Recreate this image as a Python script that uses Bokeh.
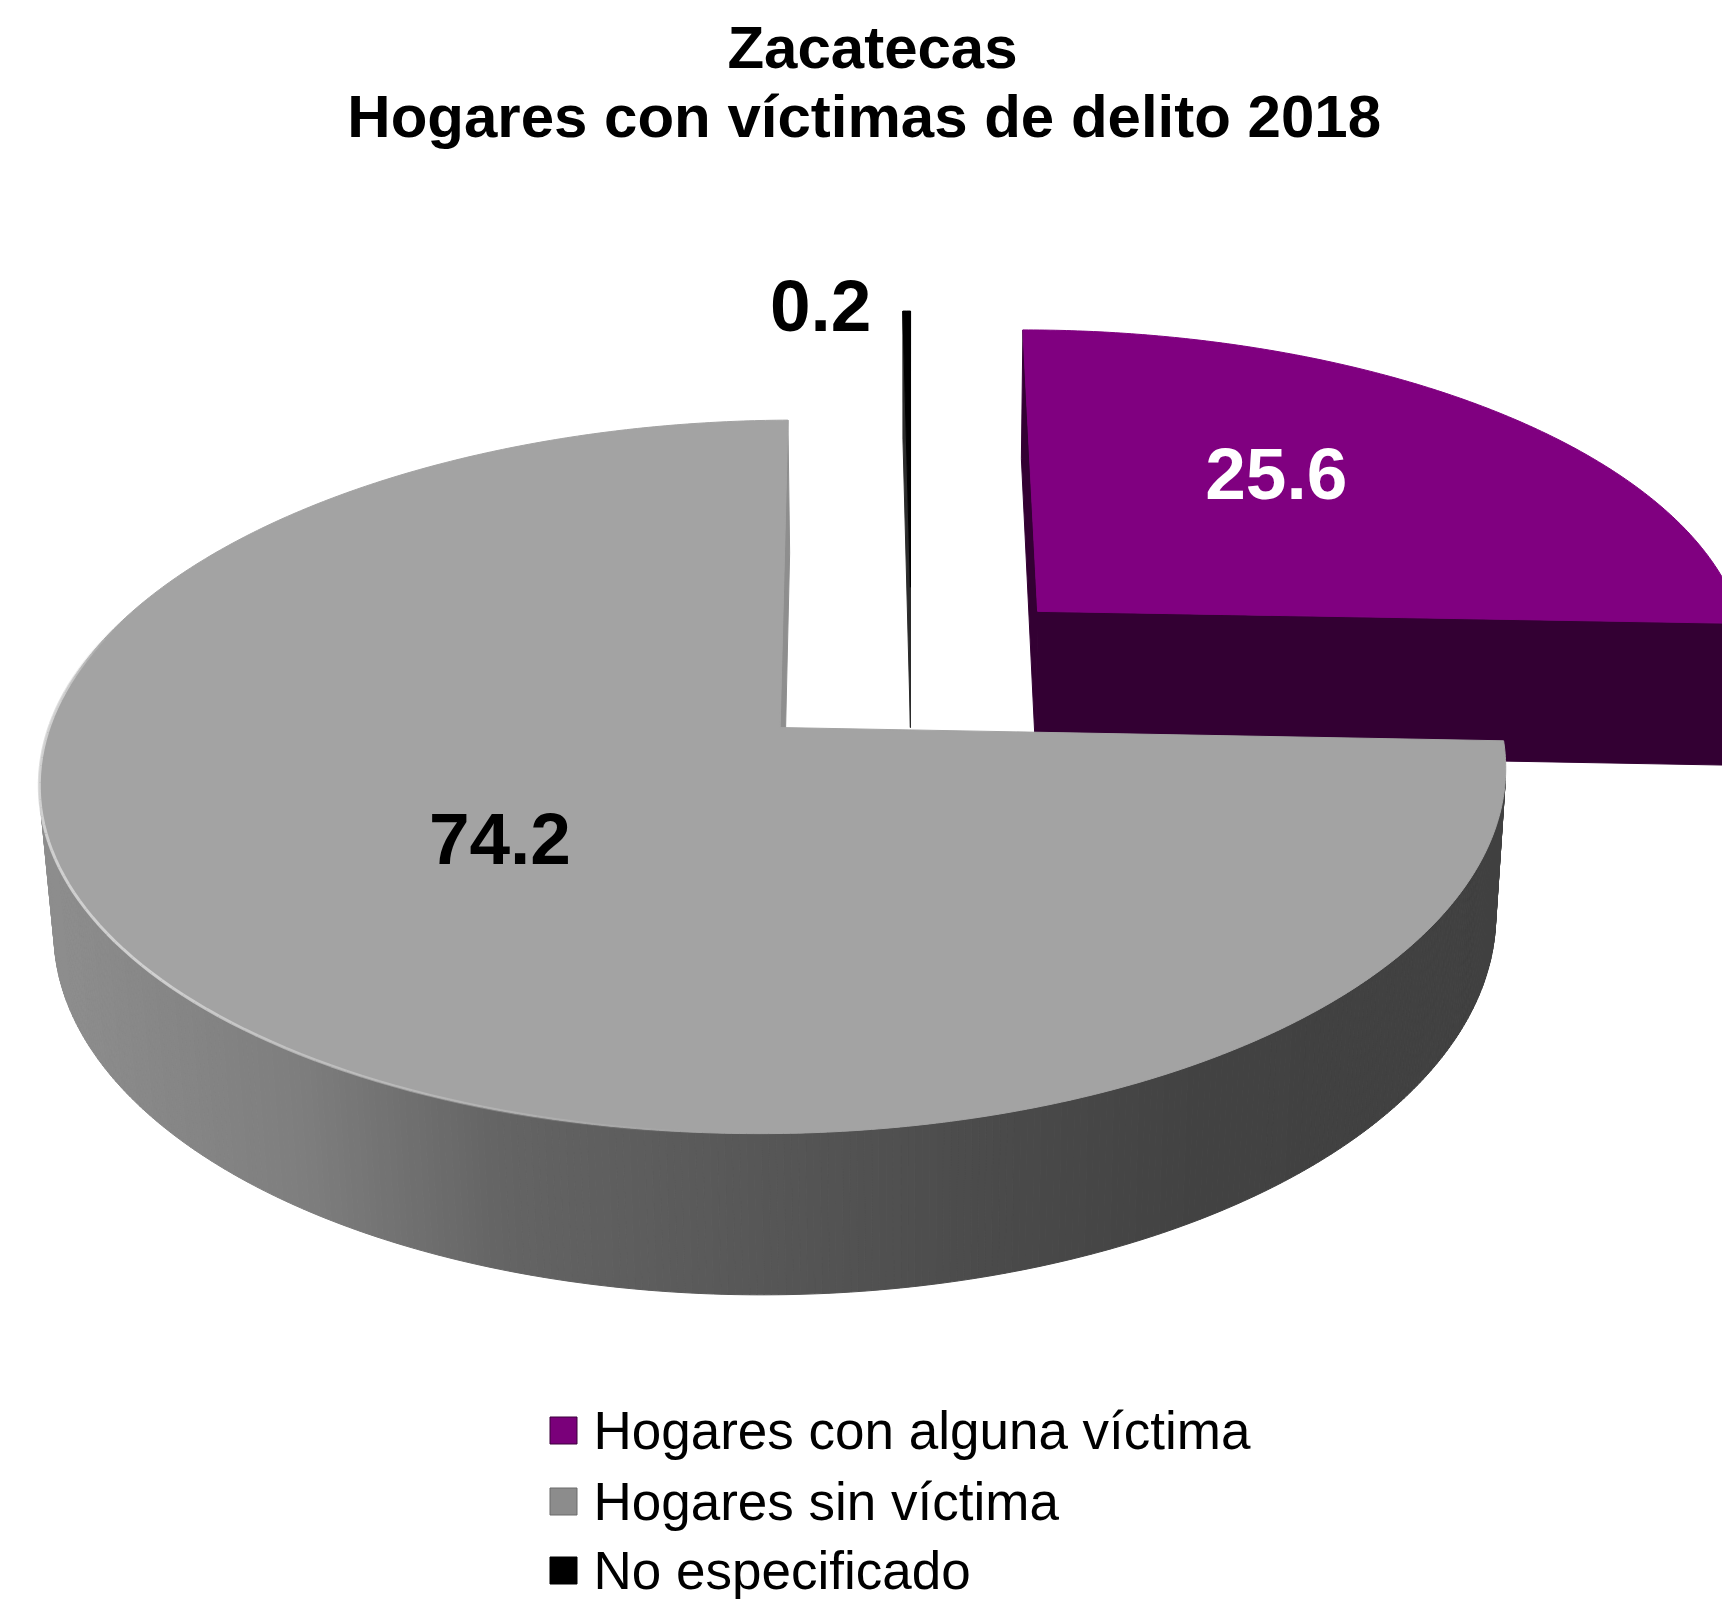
import numpy as np
from bokeh.plotting import figure
from bokeh.models import Range1d, ColumnDataSource
from bokeh.core.properties import value
from bokeh.embed import file_html
from bokeh.resources import INLINE

# ---------------- data ----------------
categories = ["Hogares con alguna víctima", "Hogares sin víctima", "No especificado"]
values = [25.6, 74.2, 0.2]
value_labels = ["25.6", "74.2", "0.2"]
title_lines = ["Zacatecas", "Hogares con víctimas  de delito 2018"]

# ---------------- style ----------------
top_colors = ["#800080", "#A3A3A3", "#000000"]
side_colors = ["#330033", None, "#2B2B2B"]      # None -> shaded gray gradient
label_colors = ["#FFFFFF", "#000000", "#000000"]
legend_colors = ["#7A007A", "#8C8C8C", "#000000"]
legend_lines = ["#3A003A", "#6A6A6A", "#000000"]
label_radius = [0.5, 0.45, 1.0]
label_shift = [(3, -6), (-27, 22), (-86, 20)]

FONT = "Liberation Sans"
W, H = 1722, 1599
BASE_FIX = 0.35  # baseline correction (fraction of font size)

# simple perspective camera for the 3-D pie
OX, OY = 911.0, 667.4
FOC = 4699.0
DIST = 6.556
S = 0.4655
C = np.sqrt(1 - S * S)
HGT = 0.23
EXPL = 0.25
CAM_Z = DIST * C
# slight horizontal asymmetry applied to the big slice only
SKEW_SCALE = 0.989
SKEW_K = 0.007


def proj(X, Y, Z, skew_x0=None):
    X = np.asarray(X, float)
    Y = np.asarray(Y, float)
    Z = np.asarray(Z, float)
    D = DIST - Y * S - Z * C
    sx = OX + FOC * X / D
    sy = OY - FOC * (Y * C - Z * S) / D
    if skew_x0 is not None:
        ax = OX + FOC * skew_x0[0] / (DIST - skew_x0[1] * C)
        sx = ax + (sx - ax) * SKEW_SCALE * (1 - SKEW_K * (X - skew_x0[0]))
    return sx, sy


def gray_shade(sx):
    stops_x = [40, 300, 500, 700, 1000, 1200, 1550]
    stops_v = [142, 126, 100, 90, 74, 66, 64]
    v = int(round(np.interp(sx, stops_x, stops_v)))
    return "#%02x%02x%02x" % (v, v, v)


def base(y, size):
    return y - BASE_FIX * size


p = figure(width=W, height=H, x_range=Range1d(0, W), y_range=Range1d(H, 0),
           output_backend="svg", toolbar_location=None, min_border=0,
           x_axis_location=None, y_axis_location=None)
p.grid.visible = False
p.outline_line_color = None
p.background_fill_color = "white"
p.border_fill_color = "white"

vals = np.array(values, float)
frac = vals / vals.sum()
ends = np.cumsum(frac) * 2 * np.pi
starts = ends - frac * 2 * np.pi
mids = (starts + ends) / 2
cxs = EXPL * np.sin(mids)
czs = -EXPL * np.cos(mids)
gi = int(np.argmax(vals))

order = np.argsort(czs)  # far slices first

xs_all, ys_all, fills = [], [], []
for i in order:
    a0, a1 = starts[i], ends[i]
    cx, cz = cxs[i], czs[i]
    sk = (cx, cz) if i == gi else None
    n = max(3, int(np.degrees(a1 - a0) * 2))
    ang = np.linspace(a0, a1, n)
    rx = cx + np.sin(ang)
    rz = cz - np.cos(ang)
    tx, ty = proj(rx, 0 * rx, rz, sk)
    bx, by = proj(rx, 0 * rx - HGT, rz, sk)
    # outer wall
    for j in range(n - 1):
        am = (ang[j] + ang[j + 1]) / 2
        nx_, nz_ = np.sin(am), -np.cos(am)
        px_, pz_ = cx + nx_, cz + nz_
        if nx_ * (0 - px_) + nz_ * (CAM_Z - pz_) <= 0:
            continue
        qx = [tx[j], tx[j + 1], bx[j + 1], bx[j]]
        qy = [ty[j], ty[j + 1], by[j + 1], by[j]]
        col = side_colors[i] if side_colors[i] else gray_shade(np.mean(qx))
        xs_all.append(qx); ys_all.append(qy); fills.append(col)
    # radial walls
    for ea, na in ((a0, a0 - np.pi / 2), (a1, a1 + np.pi / 2)):
        nx_, nz_ = np.sin(na), -np.cos(na)
        px_, pz_ = cx + 0.5 * np.sin(ea), cz - 0.5 * np.cos(ea)
        if nx_ * (0 - px_) + nz_ * (CAM_Z - pz_) <= 0:
            continue
        ex, ez = cx + np.sin(ea), cz - np.cos(ea)
        wx, wy = proj([cx, ex, ex, cx], [0, 0, -HGT, -HGT], [cz, ez, ez, cz], sk)
        col = side_colors[i] if side_colors[i] else "#8E8E8E"
        xs_all.append(list(wx)); ys_all.append(list(wy)); fills.append(col)
    # top face
    ax_, ay_ = proj(cx, 0, cz, sk)
    xs_all.append([float(ax_)] + list(tx)); ys_all.append([float(ay_)] + list(ty)); fills.append(top_colors[i])

src = ColumnDataSource(dict(xs=xs_all, ys=ys_all, fill=fills))
p.patches("xs", "ys", source=src, fill_color="fill", line_color="fill", line_width=1)

# highlight along the front-left rim of the big slice
hang = np.linspace(np.radians(182), np.radians(288), 80)
hx, hy = proj(cxs[gi] + np.sin(hang), 0 * hang, czs[gi] - np.cos(hang), (cxs[gi], czs[gi]))
seg_x = [[hx[k], hx[k + 1]] for k in range(len(hang) - 1)]
seg_y = [[hy[k], hy[k + 1]] for k in range(len(hang) - 1)]
tpos = np.linspace(0, 1, len(hang) - 1)
alphas = list(np.clip(np.minimum(tpos / 0.45, (1 - tpos) / 0.12), 0, 1) * 0.85)
p.multi_line(xs=seg_x, ys=seg_y, line_color="#D8D8D8", line_width=3, line_alpha=alphas)

# value labels
LBL_SIZE = 73
lx, ly = [], []
for i in range(len(values)):
    r = label_radius[i]
    X = cxs[i] + r * np.sin(mids[i])
    Z = czs[i] - r * np.cos(mids[i])
    sx, sy = proj(X, 0, Z)
    lx.append(float(sx) + label_shift[i][0])
    ly.append(base(float(sy) + label_shift[i][1], LBL_SIZE))
p.text(x=lx, y=ly, text=value_labels, text_color=label_colors, text_font=value(FONT),
       text_font_style="bold", text_font_size="%dpx" % LBL_SIZE, text_align="center",
       text_baseline="alphabetic")

# title
TTL_SIZE = 60
p.text(x=[872, 872], y=[base(68, TTL_SIZE), base(137, TTL_SIZE)], text=title_lines,
       text_color="#000000", text_font=value(FONT), text_font_style="bold",
       text_font_size="%dpx" % TTL_SIZE, text_align="center", text_baseline="alphabetic")

# legend
LEG_SIZE = 53
leg_y = [1430, 1501, 1570]
p.rect(x=[563] * 3, y=leg_y, width=27, height=27, fill_color=legend_colors,
       line_color=legend_lines, line_width=1)
p.text(x=[593] * 3, y=[base(v + 19, LEG_SIZE) for v in leg_y], text=categories,
       text_color="#000000", text_font=value(FONT), text_font_size="%dpx" % LEG_SIZE,
       text_align="left", text_baseline="alphabetic")

open("out.html", "w").write(file_html(p, INLINE))
